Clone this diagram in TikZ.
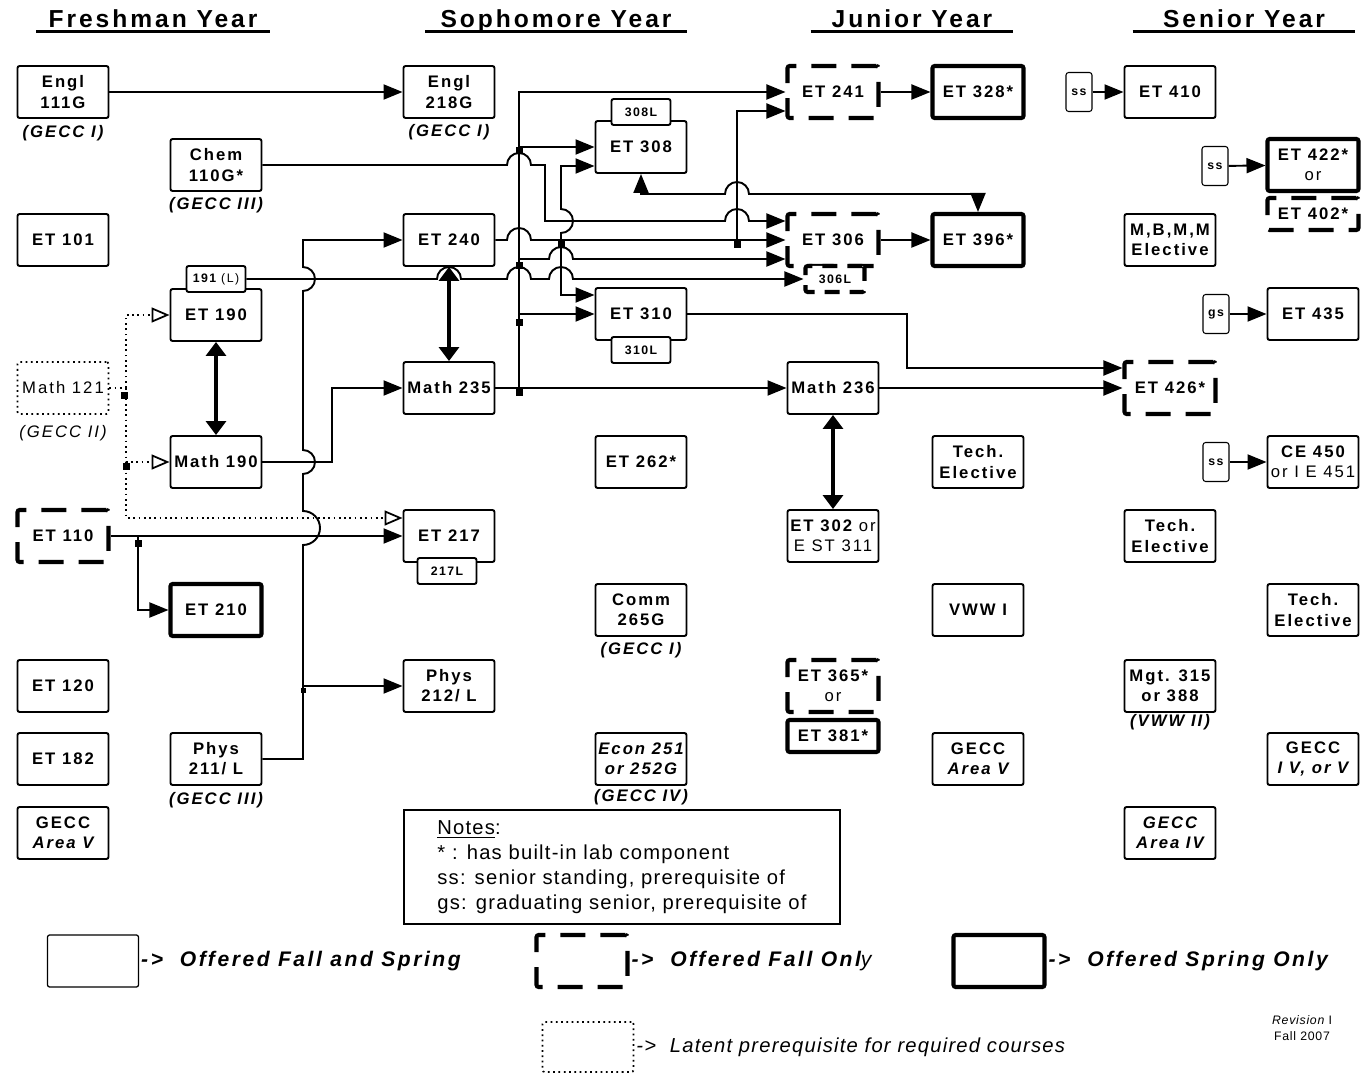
\documentclass[tikz,border=0pt]{standalone}
\usepackage{fontspec}
\setmainfont{Liberation Sans}
\newfontfamily\crsfont{Liberation Sans}[LetterSpace=12]
\newfontfamily\notefont{Liberation Sans}[LetterSpace=6]
\usetikzlibrary{arrows.meta}
\newcommand\crssize{\fontsize{9.5}{11.5}\selectfont}
\tikzset{
  box/.style={draw,line width=1.1pt,rounded corners=1.2pt,minimum width=18.2mm,minimum height=10.4mm,inner sep=0.5pt,align=center,font=\crsfont\bfseries\crssize},
  fallbox/.style={box,line width=2.3pt,dash pattern=on 5mm off 3mm},
  sprbox/.style={box,line width=2.3pt},
  latbox/.style={box,line width=1pt,dotted,font=\crsfont\crssize},
  labbox/.style={draw,fill=white,line width=1.1pt,rounded corners=1.2pt,minimum width=11.8mm,minimum height=5.2mm,inner sep=0pt,font=\crsfont\bfseries\fontsize{7}{8}\selectfont},
  stbox/.style={draw,line width=0.6pt,rounded corners=1.5pt,minimum width=5.2mm,minimum height=7.8mm,inner sep=0pt,font=\crsfont\bfseries\fontsize{7}{8}\selectfont},
  gecc/.style={font=\crsfont\bfseries\itshape\crssize},
  ar/.style={line width=1.1pt,-{Triangle[length=3.8mm,width=3mm]}},
  ar2/.style={line width=1.1pt,{Triangle[length=3.8mm,width=3mm]}-{Triangle[length=3.8mm,width=3mm]}},
  dar/.style={line width=1.8pt,{Triangle[length=2.8mm,width=4mm]}-{Triangle[length=2.8mm,width=4mm]}},
  lat/.style={line width=1pt,dotted,-{Triangle[open,length=3.6mm,width=3mm]}},
  jn/.style={fill,inner sep=0pt,minimum size=1.4mm},
  hdr/.style={font=\crsfont\bfseries\fontsize{14}{16}\selectfont,text height=3.6mm,text depth=0pt,inner xsep=0pt,inner ysep=0.6mm},
  uline/.style={line width=1.4pt},
  lgtxt/.style={anchor=west,inner xsep=1pt,font=\crsfont\bfseries\itshape\fontsize{12}{14}\selectfont}
}
\begin{document}
\begin{tikzpicture}[x=0.2mm,y=-0.2mm]
\useasboundingbox (0,0) rectangle (1364,1074);

% year headings
\node[hdr,minimum width=46.6mm] (hfr) at (153,19) {Freshman Year};
\node[hdr,minimum width=52.2mm] (hso) at (556,19) {Sophomore Year};
\node[hdr,minimum width=40.4mm] (hju) at (912,19) {Junior Year};
\node[hdr,minimum width=44.4mm] (hse) at (1244,19) {Senior Year};
\foreach \h in {hfr,hso,hju,hse}
  \draw[uline] (\h.south west) -- (\h.south east);

% freshman
\node[box] (engl111) at (63,92) {Engl\\111G};
\node[gecc] (g111) at (63,133) {(GECC I)};
\node[box] (et101) at (63,240) {ET 101};
\node[latbox] (m121) at (63,388) {Math 121};
\node[font=\crsfont\itshape\crssize] (g121) at (63,433) {(GECC II)};
\node[fallbox] (et110) at (63,536) {ET 110};
\node[box] (et120) at (63,686) {ET 120};
\node[box] (et182) at (63,759) {ET 182};
\node[box] (gv1) at (63,833) {GECC\\\itshape Area V};
\node[box] (chem) at (216,165) {Chem\\110G*};
\node[gecc] (gchem) at (216,205) {(GECC III)};
\node[box] (et190) at (216,315) {ET 190};
\node[labbox] (l191) at (216,279) {191 {\mdseries (L)}};
\node[box] (m190) at (216,462) {Math 190};
\node[sprbox] (et210) at (216,610) {ET 210};
\node[box] (ph211) at (216,759) {Phys\\211/ L};
\node[gecc] (gph) at (216,800) {(GECC III)};

% sophomore
\node[box] (engl218) at (449,92) {Engl\\218G};
\node[gecc] (g218) at (449,132) {(GECC I)};
\node[box] (et240) at (449,240) {ET 240};
\node[box] (m235) at (449,388) {Math 235};
\node[box] (et217) at (449,536) {ET 217};
\node[labbox] (l217) at (447,571) {217L};
\node[box] (ph212) at (449,686) {Phys\\212/ L};
\node[box] (et308) at (641,147) {ET 308};
\node[labbox] (l308) at (641,112) {308L};
\node[box] (et310) at (641,314) {ET 310};
\node[labbox] (l310) at (641,350) {310L};
\node[box] (et262) at (641,462) {ET 262*};
\node[box] (comm) at (641,610) {Comm\\265G};
\node[gecc] (gcomm) at (641,650) {(GECC I)};
\node[box] (econ) at (641,759) {\itshape Econ 251\\\itshape or 252G};
\node[gecc] (gecon) at (641,797) {(GECC IV)};

% junior
\node[fallbox] (et241) at (833,92) {ET 241};
\node[sprbox] (et328) at (978,92) {ET 328*};
\node[fallbox] (et306) at (833,240) {ET 306};
\node[labbox,line width=2.3pt,dash pattern=on 3mm off 2mm] (l306) at (835,279) {306L};
\node[sprbox] (et396) at (978,240) {ET 396*};
\node[box] (m236) at (833,388) {Math 236};
\node[box] (et302) at (833,536) {ET 302 {\mdseries or}\\\mdseries E ST 311};
\node[fallbox] (et365) at (833,686) {ET 365*\\\mdseries or};
\node[sprbox,minimum height=6.4mm] (et381) at (833,736) {ET 381*};
\node[box] (tech1) at (978,462) {Tech.\\Elective};
\node[box] (vww1) at (978,610) {VWW I};
\node[box] (gv3) at (978,759) {GECC\\\itshape Area V};

% senior
\node[stbox] (ss1) at (1079,92) {ss};
\node[box] (et410) at (1170,92) {ET 410};
\node[box] (mbmm) at (1170,240) {M,B,M,M\\Elective};
\node[fallbox] (et426) at (1170,388) {ET 426*};
\node[box] (tech2) at (1170,536) {Tech.\\Elective};
\node[box] (mgt) at (1170,686) {Mgt. 315\\or 388};
\node[gecc] (gmgt) at (1170,722) {(VWW II)};
\node[box] (giv) at (1170,833) {\itshape GECC\\\itshape Area IV};
\node[stbox] (ss2) at (1215,166) {ss};
\node[sprbox] (et422) at (1313,165) {ET 422*\\\mdseries or};
\node[fallbox,minimum height=6.4mm] (et402) at (1313,214) {ET 402*};
\node[stbox] (gs1) at (1216,314) {gs};
\node[box] (et435) at (1313,314) {ET 435};
\node[stbox] (ss3) at (1216,462) {ss};
\node[box] (ce450) at (1313,462) {CE 450\\\mdseries or I E 451};
\node[box] (tech3) at (1313,610) {Tech.\\Elective};
\node[box] (gfin) at (1313,759) {GECC\\\itshape I V, or V};

% prerequisites
\draw[ar] (engl111) -- (engl218);
\draw[ar] (chem.east) -- (507,165) arc (180:0:2.4mm) -- (545,165) -- (545,221)
  -- (725,221) arc (180:0:2.4mm) -- ([yshift=3.8mm]et306.west);
\draw[ar] (m235) -- (m236);
\draw[ar] (519,388) |- (et241.west);
\draw[ar] (519,147) -- (et308.west);
\draw[ar] (519,259) -- (549,259) arc (180:0:2.4mm) -- ([yshift=-3.8mm]et306.west);
\draw[ar] (519,314) -- (et310.west);
\draw[ar] (et240.east) -- (507,240) arc (180:0:2.4mm) -- (et306.west);
\draw[ar] (561,240) -- (561,233) arc (-90:90:2.4mm) -- (561,166) -- ([yshift=-3.8mm]et308.west);
\draw[ar] (561,240) |- ([yshift=3.8mm]et310.west);
\draw[ar] (737,240) |- ([yshift=-3.8mm]et241.west);
\draw[ar] (l191.east) -- (437,279) arc (180:0:2.4mm) -- (507,279) arc (180:0:2.4mm)
  -- (549,279) arc (180:0:2.4mm) -- (l306.west);
\draw[ar2] (et308.south) -- (641,194) -- (725,194) arc (180:0:2.4mm) -- (978,194) -- (et396.north);
\draw[ar] (ph211.east) -- (303,759) -- (303,545) arc (-90:90:3.4mm) -- (303,474)
  arc (-90:90:2.4mm) -- (303,291) arc (-90:90:2.4mm) |- (et240.west);
\draw[ar] (303,686) -- (ph212.west);
\draw[ar] (m190.east) -- (332,462) |- (m235.west);
\draw[dar] (et190) -- (m190);
\draw[dar] (et240) -- (m235);
\draw[dar] (m236) -- (et302);
\draw[dotted,line width=1pt] (m121.east) -- (126,388);
\draw[lat] (126,388) |- (et190.west);
\draw[lat] (126,388) |- (m190.west);
\draw[lat] (126,462) |- ([yshift=3.6mm]et217.west);
\draw[ar] (et110.east) -- (et217.west);
\draw[ar] (138,536) |- (et210.west);
\draw[ar] (et241) -- (et328);
\draw[ar] (et306) -- (et396);
\draw[ar] (et310.east) -- (907,314) |- ([yshift=4mm]et426.west);
\draw[ar] (m236) -- (et426);
\draw[ar] (ss1) -- (et410);
\draw[ar] (ss2) -- (et422);
\draw[ar] (gs1) -- (et435);
\draw[ar] (ss3) -- (ce450);

% junctions
\node[jn] (j1) at (519,151) {};
\node[jn] (j2) at (519,266) {};
\node[jn] (j3) at (519,322) {};
\node[jn] (j4) at (519,392) {};
\node[jn] (j5) at (561,245) {};
\node[jn] (j6) at (737,245) {};
\node[jn] (j7) at (124,395) {};
\node[jn] (j8) at (126,466) {};
\node[jn] (j9) at (138,543) {};
\node[jn,minimum size=1mm] (j10) at (303,690) {};

% notes
\node[draw,line width=0.8pt,minimum width=87.2mm,minimum height=22.8mm,inner sep=0pt,
  align=left,font=\notefont\fontsize{11.5}{14.2}\selectfont] (notes) at (622,867)
  {\underline{Notes}:\\{*} : has built-in lab component\\ss: senior standing, prerequisite of\\gs: graduating senior, prerequisite of};

% legend
\node[box,line width=0.7pt] (lgboth) at (93,961) {};
\node[lgtxt] (tboth) at (lgboth.east) {->~~Offered Fall and Spring};
\node[fallbox] (lgfall) at (582,961) {};
\node[lgtxt] (tfall) at (lgfall.east) {->~~Offered Fall Onl{\mdseries y}};
\node[sprbox] (lgspr) at (999,961) {};
\node[lgtxt] (tspr) at (lgspr.east) {->~~Offered Spring Only};
\node[latbox,minimum height=10mm] (lglat) at (588,1047) {};
\node[lgtxt,font=\notefont\itshape\fontsize{11.5}{14}\selectfont] (tlat) at (lglat.east) {->~~Latent prerequisite for required courses};
\node[font=\notefont\fontsize{7}{9}\selectfont,align=center] (rev) at (1302,1028) {\itshape Revision \upshape I\\Fall 2007};
\end{tikzpicture}
\end{document}
